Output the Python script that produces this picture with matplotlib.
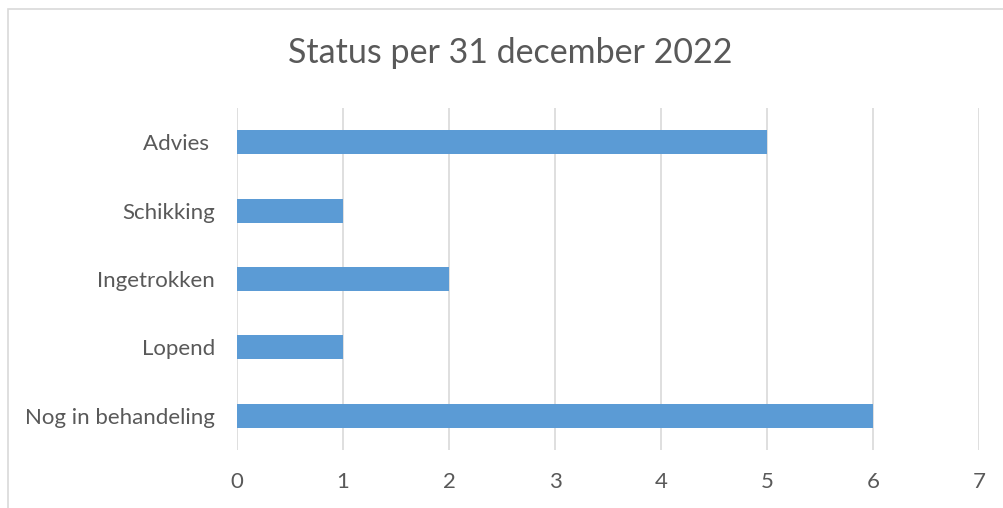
import matplotlib.pyplot as plt
import matplotlib.patches as patches

categories = ["Advies ", "Schikking", "Ingetrokken", "Lopend", "Nog in behandeling"]
values = [5, 1, 2, 1, 6]
xticks = [0, 1, 2, 3, 4, 5, 6, 7]

plt.rcParams['font.family'] = ['Lato', 'DejaVu Sans']
text_color = '#595959'

fig = plt.figure(figsize=(10.04, 5.08), dpi=100)
ax = fig.add_axes([237/1004, 1 - 450/508, (979 - 237)/1004, (450 - 108)/508])

# chart border (cut off on right and bottom like in the original)
fig.patches.append(patches.Rectangle((8/1004, -0.1), 1.2, (1 - 9/508) + 0.1,
                                     transform=fig.transFigure, fill=False,
                                     edgecolor='#D9D9D9', linewidth=1.2))

ypos = list(range(len(categories)))
ax.barh(ypos, values, height=0.35, color='#5B9BD5', zorder=3)
ax.set_yticks(ypos)
ax.set_yticklabels(categories)
ax.set_ylim(len(categories) - 0.5, -0.5)
ax.set_xlim(0, 7)
ax.set_xticks(xticks)

ax.grid(axis='x', color='#D9D9D9', linewidth=1.2, zorder=0)
for s in ax.spines.values():
    s.set_visible(False)
ax.tick_params(axis='both', length=0, labelsize=16, colors=text_color)
ax.tick_params(axis='y', pad=16)
ax.tick_params(axis='x', pad=16)

fig.text(0.5085, 1 - 53/508, "Status per 31 december 2022", ha='center', va='center',
         fontsize=24.5, color=text_color)

fig.savefig("out.png", dpi=100)
